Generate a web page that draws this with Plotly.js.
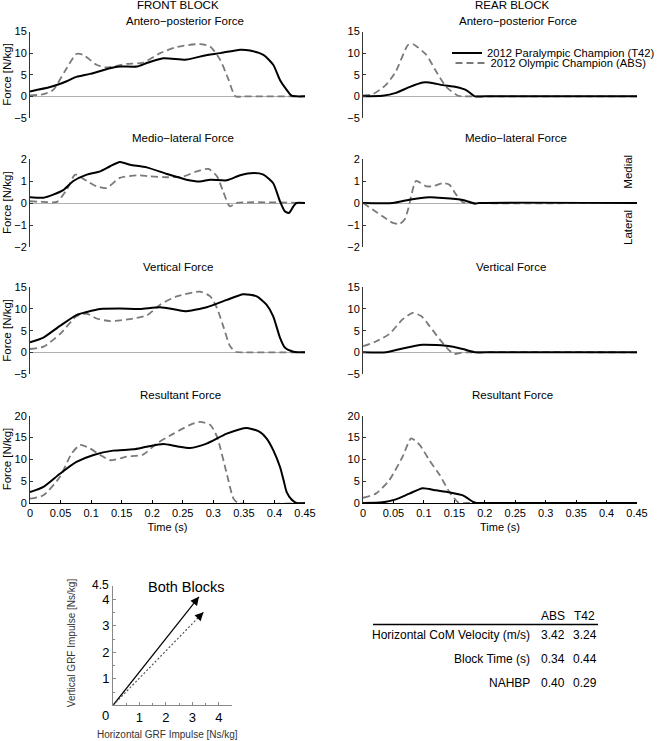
<!DOCTYPE html>
<html>
<head>
<meta charset="utf-8">
<script src="https://cdn.plot.ly/plotly-3.0.1.min.js"></script>
<style>html,body{margin:0;padding:0;background:#fff;overflow:hidden;width:660px;height:741px;}#chart{width:660px;height:741px;overflow:hidden;}</style>
</head>
<body>
<div id="chart"></div>
<script>
// ---------------- DATA ----------------
const seriesNames = ['2012 Paralympic Champion (T42)', '2012 Olympic Champion (ABS)'];
const blockTitles = ['FRONT BLOCK', 'REAR BLOCK'];
const panelTitles = ['Antero\u2212posterior Force', 'Medio\u2212lateral Force', 'Vertical Force', 'Resultant Force'];

// Front block, antero-posterior
const frontAP_T42_t = [0, 0.033, 0.06, 0.076, 0.098, 0.131, 0.147, 0.175, 0.191, 0.218, 0.256, 0.284, 0.311, 0.344, 0.36, 0.382, 0.398, 0.409, 0.42, 0.428, 0.436, 0.45];
const frontAP_T42   = [1.15, 2.15, 3.5, 4.5, 5.2, 6.5, 6.9, 6.9, 7.7, 8.8, 8.5, 9.4, 10, 10.8, 10.6, 9.6, 7.3, 3.8, 1.5, 0.15, 0, 0];
const frontAP_ABS_t = [0, 0.022, 0.038, 0.057, 0.076, 0.087, 0.109, 0.125, 0.158, 0.185, 0.213, 0.24, 0.278, 0.295, 0.311, 0.325, 0.336, 0.35, 0.45];
const frontAP_ABS   = [0.2, 0.5, 1.5, 5.8, 9.8, 9.6, 7.3, 6.7, 7.5, 7.8, 10, 11.4, 12.1, 11.5, 8.5, 3.8, 0, 0, 0];
// Rear block, antero-posterior
const rearAP_T42_t = [0, 0.032, 0.054, 0.076, 0.098, 0.109, 0.131, 0.153, 0.17, 0.184, 0.2, 0.45];
const rearAP_T42   = [0, 0.15, 0.8, 2.15, 3.2, 3.2, 2.6, 2.15, 1.4, 0, 0, 0];
const rearAP_ABS_t = [0, 0.016, 0.038, 0.054, 0.074, 0.082, 0.104, 0.12, 0.137, 0.156, 0.164, 0.18, 0.45];
const rearAP_ABS   = [0.2, 0.5, 2.7, 5.8, 11.9, 12.1, 9.6, 5.8, 2.15, 0.15, 0, 0, 0];
// Front block, medio-lateral
const frontML_T42_t = [0, 0.022, 0.038, 0.055, 0.071, 0.093, 0.115, 0.131, 0.147, 0.164, 0.191, 0.224, 0.256, 0.278, 0.295, 0.322, 0.344, 0.366, 0.382, 0.398, 0.409, 0.417, 0.424, 0.431, 0.436, 0.45];
const frontML_T42   = [0.26, 0.24, 0.38, 0.6, 1.0, 1.29, 1.44, 1.67, 1.86, 1.74, 1.62, 1.32, 1.06, 0.98, 1.06, 1.03, 1.26, 1.36, 1.29, 0.9, 0.08, -0.38, -0.45, -0.15, 0, 0];
const frontML_ABS_t = [0, 0.022, 0.044, 0.06, 0.074, 0.093, 0.109, 0.125, 0.147, 0.175, 0.196, 0.224, 0.251, 0.273, 0.292, 0.306, 0.316, 0.327, 0.338, 0.45];
const frontML_ABS   = [0.08, 0.05, 0.05, 0.6, 1.29, 1.0, 0.76, 0.68, 1.14, 1.26, 1.21, 1.17, 1.21, 1.44, 1.55, 1.21, 0.53, -0.15, 0, 0];
// Rear block, medio-lateral
const rearML_T42_t = [0, 0.049, 0.076, 0.109, 0.131, 0.164, 0.184, 0.19, 0.45];
const rearML_T42   = [0, 0, 0.15, 0.26, 0.23, 0.14, -0.03, 0, 0];
const rearML_ABS_t = [0, 0.016, 0.032, 0.049, 0.06, 0.068, 0.074, 0.079, 0.087, 0.104, 0.115, 0.131, 0.142, 0.153, 0.164, 0.175, 0.45];
const rearML_ABS   = [0, -0.3, -0.6, -0.9, -0.95, -0.76, -0.3, 0.3, 1.0, 0.76, 0.76, 0.9, 0.83, 0.38, 0.03, 0, 0];
// Front block, vertical
const frontV_T42_t = [0, 0.022, 0.049, 0.076, 0.093, 0.115, 0.147, 0.18, 0.213, 0.24, 0.256, 0.289, 0.322, 0.349, 0.371, 0.387, 0.398, 0.409, 0.417, 0.431, 0.45];
const frontV_T42   = [2.3, 3.4, 6.1, 8.6, 9.3, 10, 10.1, 10, 10.4, 9.8, 9.5, 10.4, 12.1, 13.4, 12.9, 11, 8.3, 3.4, 1.1, 0.15, 0];
const frontV_ABS_t = [0, 0.022, 0.049, 0.076, 0.093, 0.109, 0.131, 0.169, 0.191, 0.213, 0.24, 0.278, 0.295, 0.306, 0.317, 0.327, 0.336, 0.35, 0.45];
const frontV_ABS   = [0.76, 1.3, 4.2, 8.3, 8.9, 7.8, 7.2, 7.8, 8.5, 11, 12.9, 14, 12.9, 10.2, 5.7, 1.5, 0.15, 0, 0];
// Rear block, vertical
const rearV_T42_t = [0, 0.038, 0.065, 0.098, 0.12, 0.148, 0.164, 0.184, 0.2, 0.45];
const rearV_T42   = [0, 0, 0.9, 1.75, 1.67, 1.3, 0.76, 0, 0, 0];
const rearV_ABS_t = [0, 0.021, 0.043, 0.065, 0.082, 0.096, 0.109, 0.126, 0.142, 0.15, 0.162, 0.17, 0.45];
const rearV_ABS   = [1.4, 2.5, 4.2, 7.6, 9.1, 8.3, 6.1, 3.0, 0.38, -0.38, -0.08, 0, 0];
// Front block, resultant
const frontR_T42_t = [0, 0.022, 0.049, 0.076, 0.104, 0.136, 0.169, 0.191, 0.218, 0.24, 0.262, 0.289, 0.322, 0.355, 0.376, 0.387, 0.398, 0.409, 0.415, 0.42, 0.428, 0.436, 0.45];
const frontR_T42   = [2.5, 3.7, 6.7, 9.4, 11, 12, 12.3, 12.9, 13.5, 13, 12.6, 13.6, 15.9, 17.2, 16.3, 14.8, 12.1, 8.3, 5.2, 2.5, 0.8, 0, 0];
const frontR_ABS_t = [0, 0.022, 0.049, 0.068, 0.082, 0.098, 0.115, 0.131, 0.158, 0.185, 0.207, 0.235, 0.262, 0.278, 0.295, 0.306, 0.322, 0.333, 0.341, 0.45];
const frontR_ABS   = [1.0, 1.76, 6, 11.3, 13.3, 12.5, 11, 9.8, 10.6, 11.1, 13.6, 15.9, 17.9, 18.6, 17.9, 15.2, 6.7, 1, 0, 0];
// Rear block, resultant
const rearR_T42_t = [0, 0.032, 0.054, 0.076, 0.098, 0.12, 0.142, 0.164, 0.181, 0.186, 0.2, 0.45];
const rearR_T42   = [0, 0.15, 0.84, 2.15, 3.4, 2.9, 2.45, 1.76, 0.23, 0, 0, 0];
const rearR_ABS_t = [0, 0.021, 0.043, 0.065, 0.079, 0.093, 0.109, 0.126, 0.142, 0.156, 0.162, 0.175, 0.45];
const rearR_ABS   = [1.2, 2.15, 5.2, 10.6, 14.8, 13.3, 9.8, 6.4, 2.5, 0.15, 0, 0, 0];

// Y tick values per row
const rowTicks = [[-5, 0, 5, 10, 15], [-2, -1, 0, 1, 2], [-5, 0, 5, 10, 15], [0, 5, 10, 15, 20]];
const timeTicks = [0, 0.05, 0.1, 0.15, 0.2, 0.25, 0.3, 0.35, 0.4, 0.45];

// Impulse vectors (both blocks): [T42, ABS]
const impulseHoriz = [3.25, 3.42];
const impulseVert  = [4.09, 3.51];
const impulseTicks = [1, 2, 3, 4];

// Table
const tableHeader = ['ABS', 'T42'];
const tableRows = ['Horizontal CoM Velocity (m/s)', 'Block Time (s)', 'NAHBP'];
const tableABS = ['3.42', '0.34', '0.40'];
const tableT42 = ['3.24', '0.44', '0.29'];

// ---------------- LAYOUT HELPERS ----------------
const W = 660, H = 741;
const FONT = 'Arial, "Liberation Sans", Helvetica, sans-serif';
const fx = p => p / W;
const fy = p => 1 - p / H;
const colPx = [[30, 305], [363, 637]];
const rowPx = [[31.5, 118], [159, 247], [287.3, 374], [415.7, 503]];
const rowRange = [[-5, 15], [-2, 2], [-5, 15], [0, 20]];

const panels = [
  [frontAP_T42_t, frontAP_T42, frontAP_ABS_t, frontAP_ABS],
  [rearAP_T42_t, rearAP_T42, rearAP_ABS_t, rearAP_ABS],
  [frontML_T42_t, frontML_T42, frontML_ABS_t, frontML_ABS],
  [rearML_T42_t, rearML_T42, rearML_ABS_t, rearML_ABS],
  [frontV_T42_t, frontV_T42, frontV_ABS_t, frontV_ABS],
  [rearV_T42_t, rearV_T42, rearV_ABS_t, rearV_ABS],
  [frontR_T42_t, frontR_T42, frontR_ABS_t, frontR_ABS],
  [rearR_T42_t, rearR_T42, rearR_ABS_t, rearR_ABS]
];

const traces = [];
const layout = {
  width: W, height: H,
  margin: {l: 0, r: 0, t: 0, b: 0, pad: 0},
  paper_bgcolor: '#fff', plot_bgcolor: 'rgba(0,0,0,0)',
  font: {family: FONT, size: 11, color: '#000'},
  showlegend: true,
  annotations: [], shapes: []
};

panels.forEach((p, i) => {
  const n = i + 1;
  const row = Math.floor(i / 2), col = i % 2;
  const xa = 'x' + n, ya = 'y' + n;
  const shownLegend = (i === 1);
  traces.push({
    x: p[2], y: p[3], xaxis: xa, yaxis: ya, type: 'scatter', mode: 'lines',
    name: seriesNames[1], legend: 'legend2', showlegend: shownLegend,
    line: {color: '#7a7a7a', width: 1.8, dash: '7px,4px', shape: 'spline', smoothing: 0.6},
    hoverinfo: 'skip'
  });
  traces.push({
    x: p[0], y: p[1], xaxis: xa, yaxis: ya, type: 'scatter', mode: 'lines',
    name: seriesNames[0], legend: 'legend', showlegend: shownLegend,
    line: {color: '#000', width: 2, shape: 'spline', smoothing: 0.6},
    hoverinfo: 'skip'
  });
  const isBottom = row === 3;
  layout['xaxis' + (n === 1 ? '' : n)] = {
    domain: [fx(colPx[col][0]), fx(colPx[col][1])],
    range: [0, 0.45], anchor: ya,
    visible: isBottom,
    showline: true, linecolor: '#000', linewidth: 1,
    ticks: 'inside', ticklen: 3, tickcolor: '#000',
    tickmode: 'array', tickvals: timeTicks,
    tickfont: {size: 11, family: FONT},
    showgrid: false, zeroline: false,
    title: {text: 'Time (s)', font: {size: 11, family: FONT}, standoff: 5},
    fixedrange: true
  };
  layout['yaxis' + (n === 1 ? '' : n)] = {
    domain: [fy(rowPx[row][1]), fy(rowPx[row][0])],
    range: rowRange[row], anchor: xa,
    showline: true, linecolor: '#333', linewidth: 1,
    ticks: 'inside', ticklen: 3, tickcolor: '#333',
    tickmode: 'array', tickvals: rowTicks[row],
    tickfont: {size: 11, family: FONT},
    showgrid: false,
    zeroline: !isBottom, zerolinecolor: '#b0b0b0', zerolinewidth: 1,
    fixedrange: true
  };
});

// Impulse panel
impulseHoriz.forEach((h, k) => {
  traces.push({
    x: [0, h], y: [0, impulseVert[k]], xaxis: 'x9', yaxis: 'y9', type: 'scatter', mode: 'lines',
    showlegend: false, hoverinfo: 'skip',
    line: k === 0 ? {color: '#000', width: 1.2} : {color: '#555', width: 1.2, dash: '2px,2px'}
  });
  layout.annotations.push({
    xref: 'x9', yref: 'y9', axref: 'x9', ayref: 'y9',
    x: h, y: impulseVert[k], ax: h * 0.95, ay: impulseVert[k] * 0.95,
    showarrow: true, arrowhead: 2, arrowsize: 1.4, arrowwidth: 1.2, arrowcolor: '#000', text: ''
  });
});
layout.xaxis9 = {
  domain: [fx(113), fx(232)], range: [0, 4.5], anchor: 'y9',
  showline: true, linecolor: '#888', linewidth: 1,
  ticks: 'inside', ticklen: 3, tickcolor: '#888',
  tickmode: 'array', tickvals: impulseTicks,
  minor: {tickmode: 'linear', tick0: 0, dtick: 0.5, ticks: 'inside', ticklen: 2, tickcolor: '#888'},
  tickfont: {size: 13, family: FONT}, showgrid: false, zeroline: false, fixedrange: true
};
layout.yaxis9 = {
  domain: [fy(705.3), fy(586)], range: [0, 4.5], anchor: 'x9',
  showline: true, linecolor: '#888', linewidth: 1,
  ticks: 'inside', ticklen: 3, tickcolor: '#888',
  tickmode: 'array', tickvals: impulseTicks,
  minor: {tickmode: 'linear', tick0: 0, dtick: 0.5, ticks: 'inside', ticklen: 2, tickcolor: '#888'},
  tickfont: {size: 13, family: FONT}, showgrid: false, zeroline: false, fixedrange: true
};

// Legends (one per series so that rows sit close together); first anchored right to stay inside the page
layout.legend = {x: 1, y: fy(38.5), xanchor: 'right', yanchor: 'top', bgcolor: 'rgba(0,0,0,0)',
  font: {size: 11.2, family: FONT}, borderwidth: 0, tracegroupgap: 0};
layout.legend2 = {x: fx(450.5), y: fy(48.5), xanchor: 'left', yanchor: 'top', bgcolor: 'rgba(0,0,0,0)',
  font: {size: 11.2, family: FONT}, borderwidth: 0, tracegroupgap: 0};

// Text annotations
function txt(x, y, text, opts) {
  layout.annotations.push(Object.assign({xref: 'paper', yref: 'paper', x: fx(x), y: fy(y), text: text,
    showarrow: false, xanchor: 'center', yanchor: 'middle', font: {size: 11.5, family: FONT, color: '#000'}}, opts || {}));
}
txt(178, 5, blockTitles[0]);
txt(512, 5, blockTitles[1]);
const titleCx = [[185, 518], [183, 516], [178, 511], [180, 512]];
const titleCy = [21.3, 138.3, 266.7, 395];
panelTitles.forEach((t, r) => { txt(titleCx[r][0], titleCy[r], t); txt(titleCx[r][1], titleCy[r], t); });
rowPx.forEach(r => txt(7, (r[0] + r[1]) / 2, 'Force [N/kg]', {textangle: -90, font: {size: 11.5, family: FONT, color: '#000'}}));
txt(628, 171.7, 'Medial', {textangle: -90});
txt(628, 228, 'Lateral', {textangle: -90});

// Impulse panel texts
txt(186, 586.7, 'Both Blocks', {font: {size: 14.5, family: FONT, color: '#000'}});
txt(71.7, 642.5, 'Vertical GRF Impulse [Ns/kg]', {textangle: -90, font: {size: 10, family: FONT, color: '#333'}});
txt(168, 734.5, 'Horizontal GRF Impulse [Ns/kg]', {font: {size: 10, family: FONT, color: '#333'}});
txt(105.7, 715, '0', {font: {size: 13, family: FONT, color: '#000'}});
txt(101, 585, '4.5', {font: {size: 12, family: FONT, color: '#000'}});

// Table
const colCx = [553, 584.6];
txt(colCx[0], 615.7, tableHeader[0], {font: {size: 12, family: FONT, color: '#000'}});
txt(colCx[1], 615.7, tableHeader[1], {font: {size: 12, family: FONT, color: '#000'}});
layout.shapes.push({type: 'line', xref: 'paper', yref: 'paper', x0: fx(373), x1: fx(598), y0: fy(624.5), y1: fy(624.5),
  line: {color: '#000', width: 1.5}});
const rowCy = [635, 659.3, 683.3];
tableRows.forEach((r, k) => {
  txt(531.7, rowCy[k], r, {xanchor: 'right', font: {size: 12, family: FONT, color: '#000'}});
  txt(colCx[0], rowCy[k], tableABS[k], {font: {size: 12, family: FONT, color: '#000'}});
  txt(colCx[1], rowCy[k], tableT42[k], {font: {size: 12, family: FONT, color: '#000'}});
});

Plotly.newPlot('chart', traces, layout, {staticPlot: true, displayModeBar: false});
</script>
</body>
</html>
